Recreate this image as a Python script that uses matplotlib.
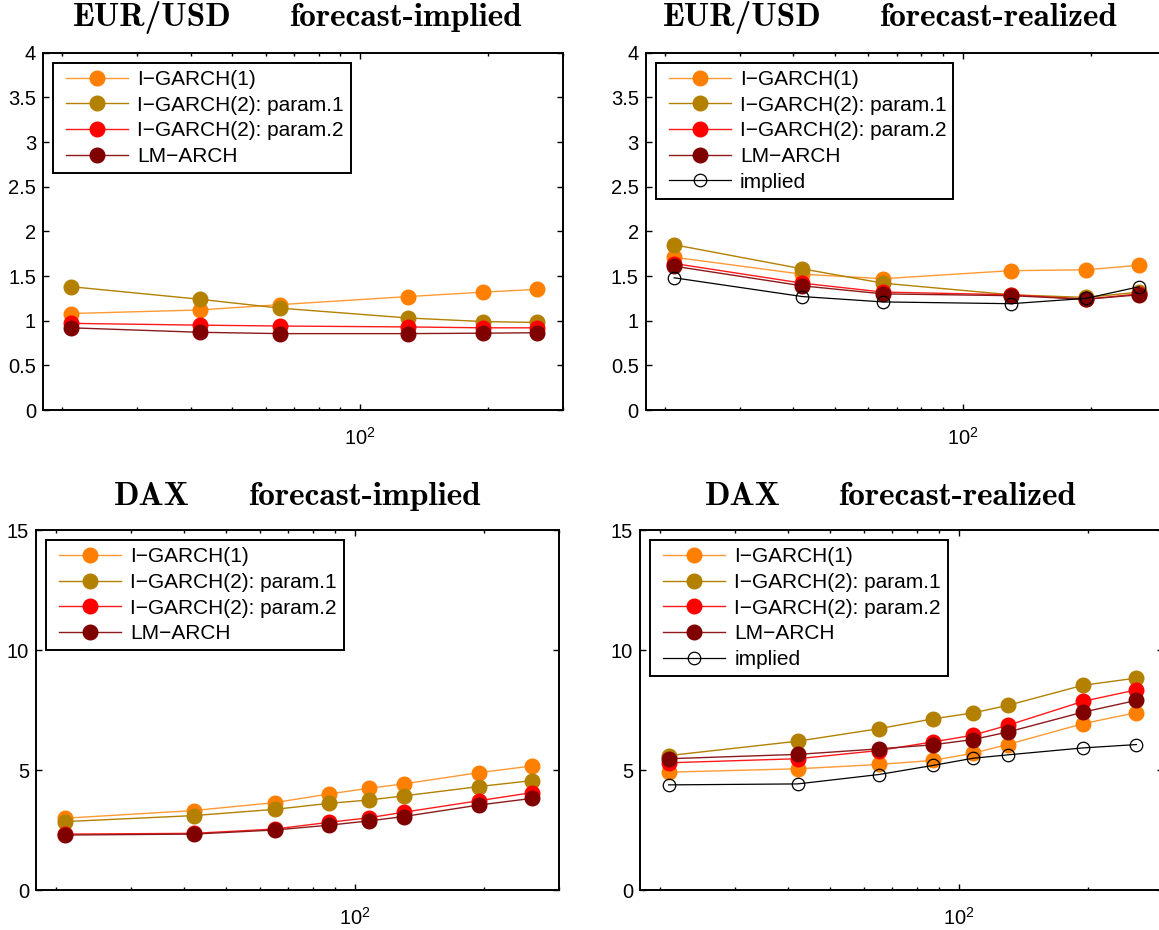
import matplotlib
matplotlib.use("Agg")
import matplotlib.pyplot as plt
from matplotlib.ticker import FuncFormatter, LogLocator, FixedLocator
from matplotlib.offsetbox import TextArea, HPacker, AnchoredOffsetbox
from matplotlib.legend_handler import HandlerLine2D
from matplotlib.lines import Line2D

plt.rcParams['font.family'] = ['Liberation Sans', 'DejaVu Sans']
plt.rcParams['mathtext.fontset'] = 'custom'
plt.rcParams['mathtext.rm'] = 'Liberation Sans'
plt.rcParams['mathtext.it'] = 'Liberation Sans:italic'
plt.rcParams['mathtext.bf'] = 'Liberation Sans:bold'

# ---------------- data ----------------
series_labels = ["I\u2212GARCH(1)", "I\u2212GARCH(2): param.1",
                 "I\u2212GARCH(2): param.2", "LM\u2212ARCH"]
implied_label = "implied"

eur_x = [21, 42, 65, 130, 195, 260]
dax_x = [21, 42, 65, 87, 108, 130, 195, 260]

# EUR/USD forecast-implied
eur_fi_igarch1 = [1.08, 1.12, 1.18, 1.27, 1.32, 1.35]
eur_fi_param1 = [1.38, 1.24, 1.14, 1.03, 0.99, 0.98]
eur_fi_param2 = [0.97, 0.95, 0.94, 0.93, 0.92, 0.92]
eur_fi_lmarch = [0.92, 0.87, 0.855, 0.855, 0.86, 0.865]

# EUR/USD forecast-realized
eur_fr_igarch1 = [1.71, 1.52, 1.47, 1.56, 1.57, 1.62]
eur_fr_param1 = [1.85, 1.58, 1.42, 1.29, 1.26, 1.32]
eur_fr_param2 = [1.64, 1.42, 1.32, 1.29, 1.24, 1.30]
eur_fr_lmarch = [1.61, 1.39, 1.30, 1.28, 1.24, 1.29]
eur_fr_implied = [1.48, 1.27, 1.21, 1.19, 1.25, 1.38]

# DAX forecast-implied
dax_fi_igarch1 = [2.99, 3.31, 3.64, 4.00, 4.24, 4.42, 4.89, 5.17]
dax_fi_param1 = [2.85, 3.10, 3.36, 3.61, 3.75, 3.92, 4.31, 4.56]
dax_fi_param2 = [2.33, 2.36, 2.54, 2.82, 3.01, 3.24, 3.72, 4.06]
dax_fi_lmarch = [2.29, 2.33, 2.50, 2.70, 2.88, 3.06, 3.54, 3.82]

# DAX forecast-realized
dax_fr_igarch1 = [4.91, 5.05, 5.23, 5.40, 5.70, 6.06, 6.93, 7.39]
dax_fr_param1 = [5.60, 6.20, 6.72, 7.13, 7.38, 7.69, 8.53, 8.83]
dax_fr_param2 = [5.30, 5.47, 5.81, 6.17, 6.45, 6.86, 7.86, 8.34]
dax_fr_lmarch = [5.47, 5.65, 5.88, 6.05, 6.27, 6.58, 7.41, 7.90]
dax_fr_implied = [4.38, 4.42, 4.81, 5.19, 5.49, 5.63, 5.92, 6.06]

eur_yticks = [0, 0.5, 1, 1.5, 2, 2.5, 3, 3.5, 4]
dax_yticks = [0, 5, 10, 15]

# ---------------- styles ----------------
marker_colors = ['#FF8000', '#B38000', '#FF0000', '#800000']
line_colors = ['#FF9A33', '#B38000', '#FF1A1A', '#8C1A1A']

LEG_FS = 15.0
LEG_FS_PX = LEG_FS * 100 / 72.0
HANDLE_SHIFT_PX = 6.0
HANDLE_LINE_PX = 62.0


class ShiftedLineHandler(HandlerLine2D):
    """Line handle drawn with a small blank margin on its left."""
    def get_xdata(self, legend, xdescent, ydescent, width, height, fontsize):
        xdata, xdata_marker = super().get_xdata(legend, xdescent, ydescent,
                                                width, height, fontsize)
        shift = HANDLE_SHIFT_PX * 72.0 / 100.0
        full = width
        scale = (full - shift) / full if full else 1.0
        xdata = [shift + (x + xdescent) * scale - xdescent for x in xdata]
        xdata_marker = [shift + (x + xdescent) * scale - xdescent for x in xdata_marker]
        return xdata, xdata_marker


W, H = 1159, 930
fig = plt.figure(figsize=(W / 100, H / 100), dpi=100)

panels = [
    dict(rect=(43, 52.7, 520, 357.3), name="EUR/USD", kind="forecast-implied",
         x=eur_x, ys=[eur_fi_igarch1, eur_fi_param1, eur_fi_param2, eur_fi_lmarch],
         imp=None, yticks=eur_yticks, tx=0.489),
    dict(rect=(645.7, 52.7, 520, 357.3), name="EUR/USD", kind="forecast-realized",
         x=eur_x, ys=[eur_fr_igarch1, eur_fr_param1, eur_fr_param2, eur_fr_lmarch],
         imp=eur_fr_implied, yticks=eur_yticks, tx=0.47),
    dict(rect=(36, 530, 523, 360), name="DAX", kind="forecast-implied",
         x=dax_x, ys=[dax_fi_igarch1, dax_fi_param1, dax_fi_param2, dax_fi_lmarch],
         imp=None, yticks=dax_yticks, tx=0.5),
    dict(rect=(640, 530, 523, 360), name="DAX", kind="forecast-realized",
         x=dax_x, ys=[dax_fr_igarch1, dax_fr_param1, dax_fr_param2, dax_fr_lmarch],
         imp=dax_fr_implied, yticks=dax_yticks, tx=0.479),
]

for p in panels:
    l, t, w, h = p['rect']
    ax = fig.add_axes([l / W, 1 - (t + h) / H, w / W, h / H])
    for ys, lab, mc, lc in zip(p['ys'], series_labels, marker_colors, line_colors):
        ax.plot(p['x'], ys, '-o', color=lc, lw=1.0, marker='o', ms=10.5,
                mfc=mc, mec=mc, label=lab)
    if p['imp'] is not None:
        ax.plot(p['x'], p['imp'], '-o', color='black', lw=0.9, ms=9,
                mfc='none', mec='black', mew=0.9, label=implied_label)
    ax.set_xscale('log')
    ax.set_xlim(18, 300)
    ax.set_ylim(p['yticks'][0], p['yticks'][-1])
    ax.yaxis.set_major_locator(FixedLocator(p['yticks']))
    ax.yaxis.set_major_formatter(FuncFormatter(lambda v, pos: '%g' % v))
    ax.xaxis.set_major_locator(LogLocator(base=10))
    ax.xaxis.set_minor_locator(LogLocator(base=10, subs=range(2, 10)))
    ax.tick_params(which='both', direction='in', top=True, right=True,
                   labelsize=14.5, width=1.0)
    ax.tick_params(which='major', length=4.0, pad=5)
    ax.tick_params(which='minor', length=2.5, labelbottom=False)
    ax.tick_params(axis='x', which='major', pad=12)
    for sp in ax.spines.values():
        sp.set_linewidth(1.4)
    leg = ax.legend(loc='upper left', borderaxespad=0.5, fancybox=False,
                    edgecolor='black', framealpha=1, fontsize=LEG_FS,
                    handlelength=(HANDLE_LINE_PX + HANDLE_SHIFT_PX) / LEG_FS_PX,
                    handletextpad=0.43, labelspacing=0.32, borderpad=0.33,
                    handler_map={Line2D: ShiftedLineHandler()})
    leg.get_frame().set_linewidth(1.4)

    tprops = dict(fontfamily='cmb10', fontsize=24, color='black')
    box = HPacker(children=[TextArea(p['name'], textprops=tprops),
                            TextArea(p['kind'], textprops=tprops)],
                  sep=41.8, align='baseline', pad=0)
    anch = AnchoredOffsetbox(loc='lower center', child=box, pad=0, borderpad=0,
                             frameon=False, bbox_to_anchor=(p['tx'], 1.0 + 19.0 / h),
                             bbox_transform=ax.transAxes)
    anch.set_clip_on(False)
    ax.add_artist(anch)

fig.savefig('out.png', dpi=100)
